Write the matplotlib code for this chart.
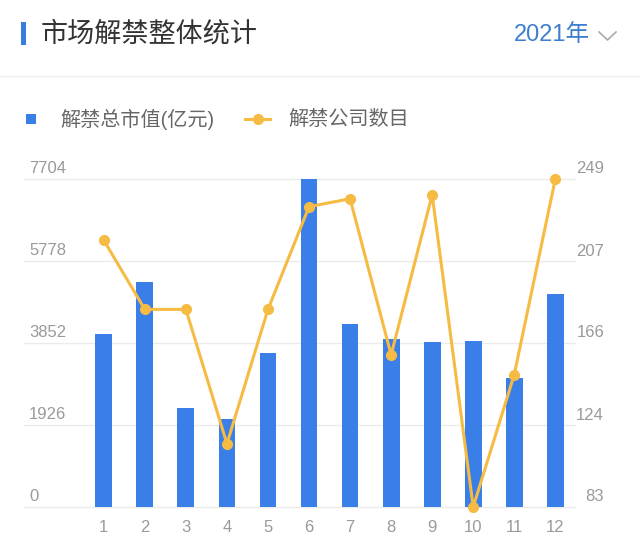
import matplotlib
matplotlib.use('Agg')
import matplotlib.pyplot as plt
import numpy as np
from matplotlib.patches import Rectangle
from matplotlib.lines import Line2D

plt.rcParams['font.family'] = ['Liberation Sans', 'Noto Sans CJK SC', 'DejaVu Sans']

# ---- data ----
months = ['1', '2', '3', '4', '5', '6', '7', '8', '9', '10', '11', '12']
market_value = [4056, 5285, 2318, 2074, 3617, 7704, 4298, 3939, 3875, 3892, 3037, 5010]
company_count = [218, 183, 183, 115, 183, 235, 239, 160, 241, 83, 150, 249]
left_ticks = [0, 1926, 3852, 5778, 7704]
right_ticks = [83, 124, 166, 207, 249]
title = '市场解禁整体统计'
year_label = '2021年'
bar_label = '解禁总市值(亿元)'
line_label = '解禁公司数目'

BLUE = '#3a7ee8'
ORANGE = '#f6bb43'
GRID = '#ebebeb'
TICK = '#9a9a9a'

W, H = 640, 549
fig = plt.figure(figsize=(6.4, 5.49), dpi=100)
fig.patch.set_facecolor('white')

def fx(px):
    return px / W

def fy(py):
    return 1 - py / H

# ---- header ----
fig.add_artist(Rectangle((fx(20.5), fy(45)), 5 / W, 23 / H, transform=fig.transFigure,
                         color='#3a7de0', lw=0))
fig.text(fx(41), fy(34), title, fontsize=19.5, color='#333333', va='center', ha='left',
         family=['Noto Sans CJK SC'])
fig.text(fx(590), fy(35), year_label, fontsize=17, color='#3d7fce', va='center', ha='right')
fig.add_artist(Line2D([fx(599), fx(607.5), fx(616)], [fy(32), fy(40), fy(32)],
                      transform=fig.transFigure, color='#aaaaaa', lw=1.2))
fig.add_artist(Line2D([0, 1], [fy(76), fy(76)], transform=fig.transFigure,
                      color='#eeeeee', lw=1))

# ---- legend ----
fig.add_artist(Rectangle((fx(26), fy(124)), 10 / W, 10 / H, transform=fig.transFigure,
                         color=BLUE, lw=0))
fig.text(fx(60), fy(119), bar_label, fontsize=14.5, color='#666666', va='center', ha='left')
fig.add_artist(Line2D([fx(245), fx(270)], [fy(119), fy(119)], transform=fig.transFigure,
                      color=ORANGE, lw=2.2))
fig.add_artist(Line2D([fx(257.5)], [fy(119)], transform=fig.transFigure,
                      color=ORANGE, marker='o', ms=7, lw=0))
fig.text(fx(288), fy(119), line_label, fontsize=14.5, color='#666666', va='center', ha='left')

# ---- chart ----
ax = fig.add_axes([fx(24), fy(507), (575 - 24) / W, (507 - 179) / H])
x = np.arange(1, len(months) + 1)
ax.bar(x, market_value, width=0.41, color=BLUE, zorder=2)
ax.set_xlim(-0.944, 12.48)
ax.set_ylim(left_ticks[0], left_ticks[-1])
for v in left_ticks:
    ax.axhline(v, color=GRID, lw=1, zorder=0, clip_on=False)
ax.set_yticks([])
ax.set_xticks(x)
ax.set_xticklabels(months)
ax.tick_params(axis='x', length=0, pad=9, labelsize=12, labelcolor=TICK)
for s in ax.spines.values():
    s.set_visible(False)
for v in left_ticks:
    ax.annotate(str(v), xy=(0, v), xycoords=('axes fraction', 'data'),
                xytext=(5, 6), textcoords='offset pixels', ha='left', va='baseline',
                fontsize=12, color=TICK)

ax2 = ax.twinx()
ax2.plot(x, company_count, color=ORANGE, lw=2.2, marker='o', ms=7, zorder=3, clip_on=False)
ax2.set_ylim(right_ticks[0], right_ticks[-1])
ax2.set_yticks([])
for s in ax2.spines.values():
    s.set_visible(False)
for v in right_ticks:
    ax2.annotate(str(v), xy=(1, v), xycoords=('axes fraction', 'data'),
                 xytext=(29, 6), textcoords='offset pixels', ha='right', va='baseline',
                 fontsize=12, color=TICK)

fig.savefig('out.png', dpi=100, facecolor='white')
